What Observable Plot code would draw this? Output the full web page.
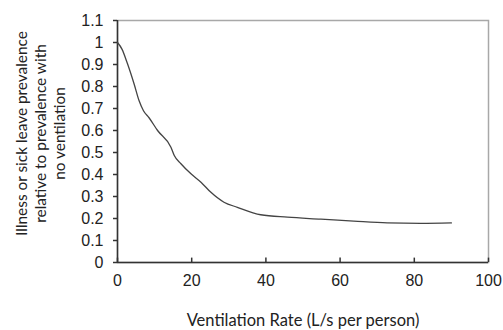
<!DOCTYPE html>
<html>
<head>
<meta charset="utf-8">
<script src="https://cdn.jsdelivr.net/npm/d3@7"></script>
<script src="https://cdn.jsdelivr.net/npm/@observablehq/plot@0.6"></script>
<style>
  html, body { margin: 0; padding: 0; background: #fff; }
  #chart svg { display: block; }
</style>
</head>
<body>
<div id="chart"></div>
<script>
// Ventilation rate (L/s per person)
const ventilation = [0, 1.2, 2.7, 4.5, 5.8, 7.0, 8.5, 10.8, 14.4, 15.3, 17.1, 19.8, 22.5, 25.1, 28.7, 32.3, 38.6, 45.8, 54.8, 63.7, 72.7, 81.7, 90];
// Prevalence relative to no ventilation
const prevalence = [1.0, 0.97, 0.903, 0.81, 0.736, 0.69, 0.658, 0.60, 0.524, 0.486, 0.449, 0.403, 0.365, 0.32, 0.274, 0.251, 0.217, 0.206, 0.197, 0.188, 0.18, 0.178, 0.18];

const xTicks = [0, 20, 40, 60, 80, 100];
const yTicks = [0, 0.1, 0.2, 0.3, 0.4, 0.5, 0.6, 0.7, 0.8, 0.9, 1, 1.1];
const yTickLabels = ["0", "0.1", "0.2", "0.3", "0.4", "0.5", "0.6", "0.7", "0.8", "0.9", "1", "1.1"];
const xTitle = "Ventilation Rate (L/s per person)";
const yTitleLines = ["Illness or sick leave prevalence", "relative to prevalence with", "no ventilation"];

const data = ventilation.map((v, i) => ({x: v, y: prevalence[i]}));

const tickFont = "'Liberation Sans', Arial, sans-serif";
const titleFont = "Lato, 'Open Sans', sans-serif";

const chart = Plot.plot({
  width: 503,
  height: 330,
  marginLeft: 117,
  marginRight: 15,
  marginTop: 20,
  marginBottom: 68,
  style: {fontFamily: tickFont, fontSize: "16px", color: "#222", background: "#fff"},
  x: {domain: [0, 100], ticks: xTicks},
  y: {domain: [0, 1.1], ticks: yTicks},
  marks: [
    Plot.frame({stroke: "#a8a8a8", strokeWidth: 1.5}),
    Plot.axisX(xTicks, {tickSize: 0, tickPadding: 12, fontSize: 16, fontFamily: tickFont, fill: "#222", label: null}),
    Plot.axisY(yTicks, {tickSize: 4, tickPadding: 10, fontSize: 16, fontFamily: tickFont, fill: "#222", stroke: "#333", strokeWidth: 1.5,
      tickFormat: d => yTickLabels[yTicks.indexOf(d)], label: null}),
    Plot.ruleX(xTicks, {y1: 0, y2: 0.02, stroke: "#333", strokeWidth: 1.5}),
    Plot.ruleY([0], {stroke: "#333", strokeWidth: 1.5}),
    Plot.ruleX([0], {stroke: "#333", strokeWidth: 1.5}),
    Plot.line(data, {x: "x", y: "y", curve: "monotone-x", stroke: "#444", strokeWidth: 1.3}),
    Plot.text([xTitle], {frameAnchor: "bottom", dy: 58, fontSize: 16.5, fontFamily: titleFont, fill: "#222", lineAnchor: "middle"}),
    Plot.text([yTitleLines.join("\n")], {frameAnchor: "left", dx: -78, dy: -8, rotate: -90, fontSize: 15.4, lineHeight: 1.23,
      fontFamily: titleFont, fill: "#222", lineAnchor: "middle", textAnchor: "middle"})
  ]
});
document.getElementById("chart").appendChild(chart);
</script>
</body>
</html>
